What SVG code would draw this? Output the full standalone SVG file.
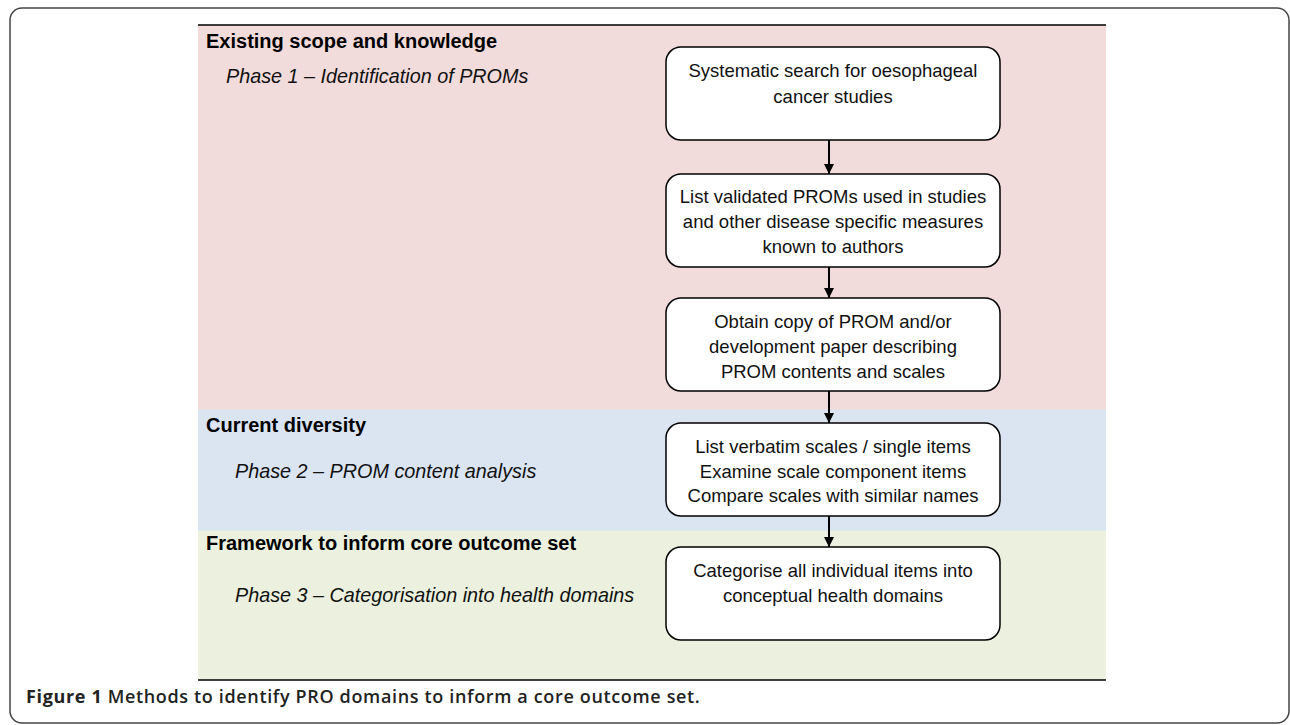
<svg xmlns="http://www.w3.org/2000/svg" width="1290" height="725" viewBox="0 0 1290 725">
<style>
.box{fill:#fff;stroke:#000;stroke-width:1.5}
.bt{font-family:"Liberation Sans",Arial,sans-serif;font-size:18.5px;fill:#111;text-anchor:middle}
.hd{font-family:"Liberation Sans",Arial,sans-serif;font-size:20px;font-weight:bold;fill:#000}
.ph{font-family:"Liberation Sans",Arial,sans-serif;font-size:19.8px;font-style:italic;fill:#111}
.cap{font-family:"Open Sans","Noto Sans",sans-serif;font-size:18px;letter-spacing:0.65px;fill:#222;font-weight:600}
.arr{stroke:#000;stroke-width:2;fill:none;marker-end:url(#ah)}
</style>
<defs>
<marker id="ah" viewBox="0 0 10 10" refX="10" refY="5" markerWidth="10" markerHeight="10" markerUnits="userSpaceOnUse" orient="auto">
<path d="M0,0 L10,5 L0,10 Z" fill="#000"/>
</marker>
</defs>
<rect width="1290" height="725" fill="#fff"/>
<rect id="frame" x="10" y="8" width="1279" height="715" rx="12" fill="none" stroke="#444" stroke-width="1.5"/>
<g id="bands">
<rect x="198" y="25" width="908" height="385" fill="#f2dcdb"/>
<rect x="198" y="409.5" width="908" height="121.5" fill="#dbe5f1"/>
<rect x="198" y="530.7" width="908" height="149.3" fill="#ebf1de"/>
<line x1="198" y1="25" x2="1106" y2="25" stroke="#000" stroke-width="1.5"/>
<line x1="198" y1="680" x2="1106" y2="680" stroke="#000" stroke-width="1.5"/>
</g>
<g id="labels">
<text class="hd" x="206" y="48">Existing scope and knowledge</text>
<text class="ph" x="226" y="83">Phase 1 – Identification of PROMs</text>
<text class="hd" x="206" y="431.5">Current diversity</text>
<text class="ph" x="235" y="478">Phase 2 – PROM content analysis</text>
<text class="hd" x="206" y="550">Framework to inform core outcome set</text>
<text class="ph" x="235" y="601.5">Phase 3 – Categorisation into health domains</text>
</g>
<g id="connectors">
<line class="arr" x1="829" y1="140" x2="829" y2="174"/>
<line class="arr" x1="829" y1="267" x2="829" y2="298"/>
<line class="arr" x1="829" y1="391" x2="829" y2="423"/>
<line class="arr" x1="829" y1="516" x2="829" y2="547"/>
</g>
<g id="n1">
<rect class="box" x="666" y="47" width="334" height="93" rx="15"/>
<text class="bt" x="833" y="77">Systematic search for oesophageal</text>
<text class="bt" x="833" y="102.5">cancer studies</text>
</g>
<g id="n2">
<rect class="box" x="666" y="174" width="334" height="93" rx="15"/>
<text class="bt" x="833" y="203">List validated PROMs used in studies</text>
<text class="bt" x="833" y="228">and other disease specific measures</text>
<text class="bt" x="833" y="253">known to authors</text>
</g>
<g id="n3">
<rect class="box" x="666" y="298" width="334" height="93" rx="15"/>
<text class="bt" x="833" y="328">Obtain copy of PROM and/or</text>
<text class="bt" x="833" y="353">development paper describing</text>
<text class="bt" x="833" y="377.5">PROM contents and scales</text>
</g>
<g id="n4">
<rect class="box" x="666" y="423" width="334" height="93" rx="15"/>
<text class="bt" x="833" y="453">List verbatim scales / single items</text>
<text class="bt" x="833" y="477.5">Examine scale component items</text>
<text class="bt" x="833" y="502">Compare scales with similar names</text>
</g>
<g id="n5">
<rect class="box" x="666" y="547" width="334" height="93" rx="15"/>
<text class="bt" x="833" y="577">Categorise all individual items into</text>
<text class="bt" x="833" y="601.5">conceptual health domains</text>
</g>
<text class="cap" x="26" y="703"><tspan font-weight="700">Figure 1</tspan> Methods to identify PRO domains to inform a core outcome set.</text>
</svg>
